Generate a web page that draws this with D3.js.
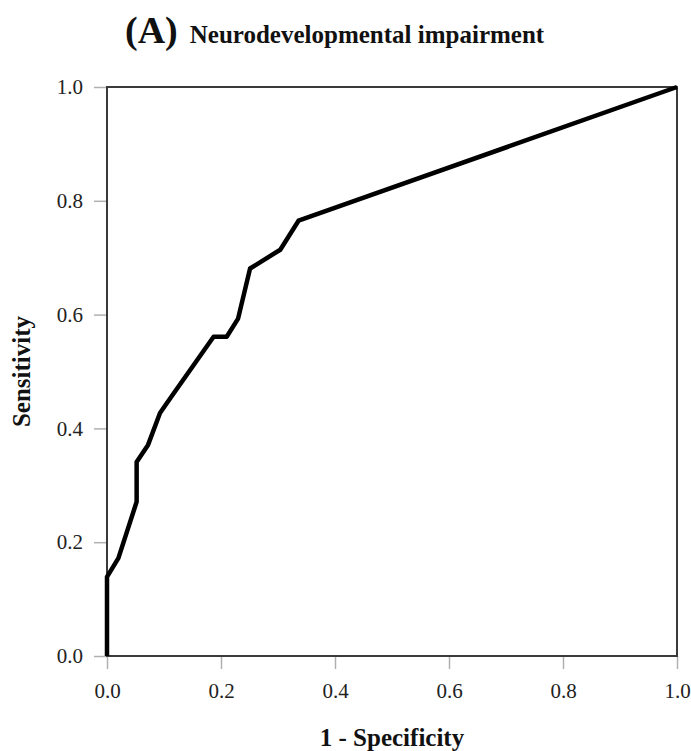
<!DOCTYPE html>
<html>
<head>
<meta charset="utf-8">
<script src="https://cdn.jsdelivr.net/npm/d3@7"></script>
<style>
  body { margin: 0; background: #fff; }
  svg text { font-family: "Liberation Serif", "Times New Roman", serif; }
</style>
</head>
<body>
<div id="chart"></div>
<script>
// ROC curve values
var fpr = [0, 0, 0.020, 0.052, 0.052, 0.072, 0.093, 0.111, 0.187, 0.210, 0.230, 0.251, 0.304, 0.336, 1];
var tpr = [0, 0.139, 0.172, 0.271, 0.341, 0.371, 0.427, 0.453, 0.561, 0.561, 0.593, 0.681, 0.714, 0.765, 1];
var tickValues = [0, 0.2, 0.4, 0.6, 0.8, 1.0];

var width = 691, height = 751;
var margin = { top: 87, right: 14, bottom: 95, left: 107 };

var svg = d3.select('#chart').append('svg')
  .attr('width', width)
  .attr('height', height);

var x = d3.scaleLinear().domain([0, 1]).range([margin.left, width - margin.right]);
var y = d3.scaleLinear().domain([0, 1]).range([height - margin.bottom, margin.top]);

// axes - light grey ticks sticking out of the box
var xAxis = svg.append('g')
  .attr('transform', 'translate(0,' + y(0) + ')')
  .call(d3.axisBottom(x).tickValues(tickValues).tickFormat(d3.format('.1f'))
    .tickSize(13).tickPadding(14));

var yAxis = svg.append('g')
  .attr('transform', 'translate(' + x(0) + ',0)')
  .call(d3.axisLeft(y).tickValues(tickValues).tickFormat(d3.format('.1f'))
    .tickSize(13).tickPadding(11));

[xAxis, yAxis].forEach(function (g) {
  g.select('.domain').remove();
  g.selectAll('.tick line').attr('stroke', '#b0b0b0').attr('stroke-width', 1.5);
  g.selectAll('.tick text')
    .attr('fill', '#222')
    .style('font-size', '21px')
    .style('font-family', '"Liberation Serif", serif');
});

// plot box
svg.append('rect')
  .attr('x', x(0))
  .attr('y', y(1))
  .attr('width', x(1) - x(0))
  .attr('height', y(0) - y(1))
  .attr('fill', 'none')
  .attr('stroke', '#3a3a3a')
  .attr('stroke-width', 2);

// the curve
var line = d3.line()
  .x(function (d) { return x(d[0]); })
  .y(function (d) { return y(d[1]); });

svg.append('path')
  .datum(d3.zip(fpr, tpr))
  .attr('d', line)
  .attr('fill', 'none')
  .attr('stroke', '#000')
  .attr('stroke-width', 4.5)
  .attr('stroke-linejoin', 'round');

// title
var title = svg.append('text')
  .attr('x', 125)
  .attr('y', 43)
  .attr('fill', '#111')
  .style('font-weight', 'bold');
title.append('tspan').style('font-size', '38px').text('(A)');
title.append('tspan').attr('dx', 12).style('font-size', '25px').text('Neurodevelopmental impairment');

// axis labels
svg.append('text')
  .attr('x', (x(0) + x(1)) / 2)
  .attr('y', 746)
  .attr('text-anchor', 'middle')
  .attr('fill', '#111')
  .style('font-size', '25px')
  .style('font-weight', 'bold')
  .text('1 - Specificity');

svg.append('text')
  .attr('transform', 'translate(30,' + (y(0) + y(1)) / 2 + ') rotate(-90)')
  .attr('text-anchor', 'middle')
  .attr('fill', '#111')
  .style('font-size', '25px')
  .style('font-weight', 'bold')
  .text('Sensitivity');
</script>
</body>
</html>
